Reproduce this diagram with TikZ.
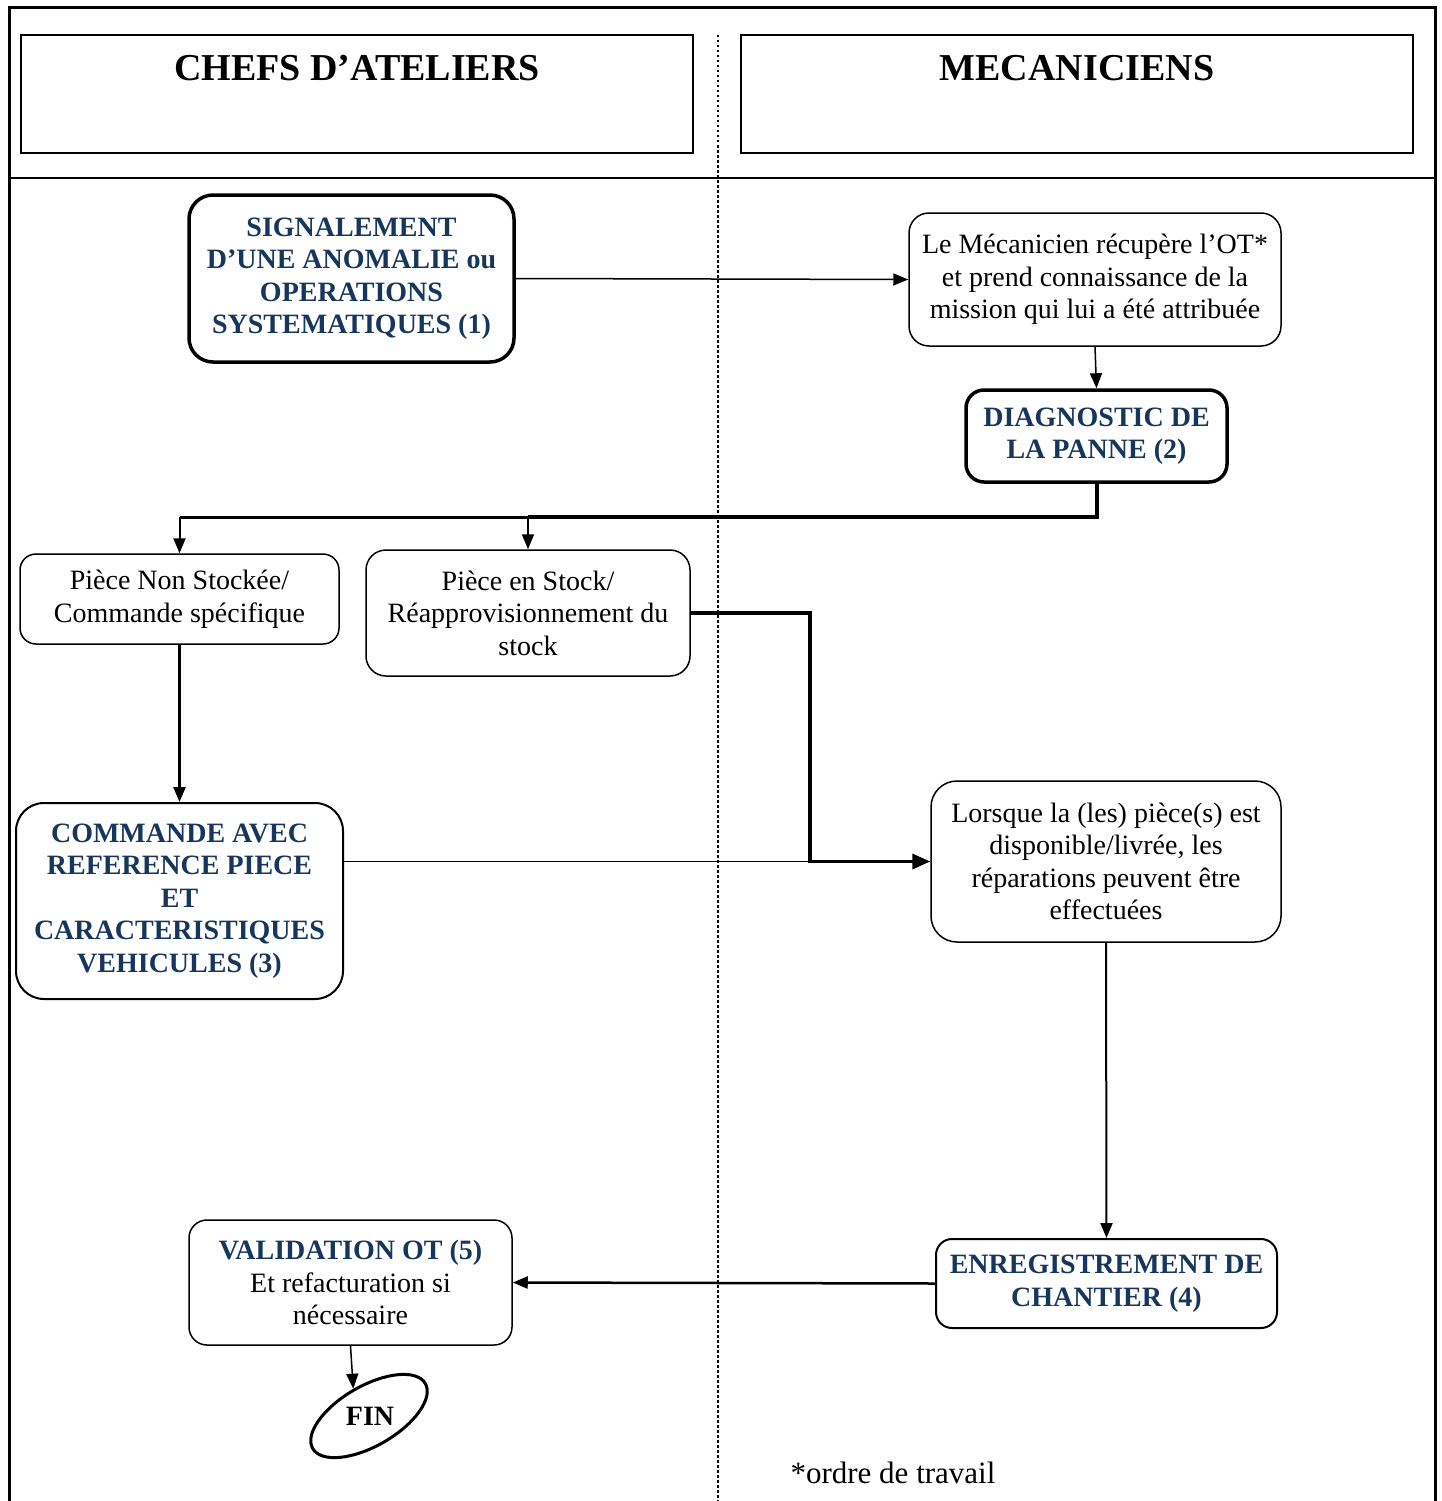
\documentclass[tikz,border=0pt]{standalone}
\usepackage{fontspec}
\setmainfont{Liberation Serif}
\usetikzlibrary{arrows.meta,shapes.geometric}
\definecolor{tblue}{RGB}{23,54,93}
\begin{document}
\begin{tikzpicture}[x=1pt,y=-1pt,
  txt/.style={font=\fontsize{28}{32.5}\selectfont},
  box/.style={draw, rounded corners=20pt, line width=1.5pt, align=center, inner sep=0pt, txt},
  boldbox/.style={box, line width=3.5pt, rounded corners=24pt, text=tblue, font=\fontsize{28}{32.5}\selectfont\bfseries},
  bluebox/.style={box, line width=2pt, text=tblue, font=\fontsize{28}{32.5}\selectfont\bfseries},
  hdr/.style={draw, line width=2pt, inner sep=0pt},
  arr/.style={-{Triangle[length=15pt,width=12pt]}, line width=1.5pt},
  lane/.style={line width=3pt}
]
\useasboundingbox (0,0) rectangle (1442,1501);
% frame
\draw[lane] (9,1501) -- (9,8) -- (1435,8) -- (1435,1501);
\draw[line width=1.5pt] (9,178) -- (1435,178);
\draw[line width=2.5pt, dash pattern=on 2.5pt off 2.5pt] (718,35) -- (718,1501);
% headers
\node[hdr, minimum width=672pt, minimum height=118pt] (h1) at (357,94) {};
\node[hdr, minimum width=672pt, minimum height=118pt] (h2) at (1077,94) {};
\node[font=\fontsize{38}{44}\selectfont\bfseries] (t1) at (357,68) {CHEFS D’ATELIERS};
\node[font=\fontsize{38}{44}\selectfont\bfseries] (t2) at (1077,68) {MECANICIENS};
% nodes
\node[boldbox, minimum width=325pt, minimum height=167pt] (n1) at (351.5,278.5)
  {SIGNALEMENT\\D’UNE ANOMALIE ou\\OPERATIONS\\SYSTEMATIQUES (1)};
\node[box, minimum width=372pt, minimum height=133pt] (n2) at (1095,279.5)
  {Le Mécanicien récupère l’OT*\\et prend connaissance de la\\mission qui lui a été attribuée};
\node[boldbox, rounded corners=18pt, minimum width=261pt, minimum height=92pt] (n3) at (1096.5,436)
  {DIAGNOSTIC DE\\LA PANNE (2)};
\node[box, rounded corners=16pt, minimum width=319pt, minimum height=90pt] (n4) at (179.5,599)
  {Pièce Non Stockée/\\Commande spécifique};
\node[box, minimum width=324pt, minimum height=126pt] (n5) at (528,613)
  {Pièce en Stock/\\Réapprovisionnement du\\stock};
\node[bluebox, rounded corners=28pt, minimum width=327pt, minimum height=196pt] (n6) at (179.5,901)
  {COMMANDE AVEC\\REFERENCE PIECE\\ET\\CARACTERISTIQUES\\VEHICULES (3)};
\node[box, rounded corners=26pt, minimum width=350pt, minimum height=161pt] (n7) at (1106,861.5)
  {Lorsque la (les) pièce(s) est\\disponible/livrée, les\\réparations peuvent être\\effectuées};
\node[bluebox, rounded corners=16pt, minimum width=341pt, minimum height=89pt] (n8) at (1106.5,1283.5)
  {ENREGISTREMENT DE\\CHANTIER (4)};
\node[box, rounded corners=18pt, minimum width=323pt, minimum height=125pt] (n9) at (350.5,1282.5)
  {\textcolor{tblue}{\bfseries VALIDATION OT (5)}\\Et refacturation si\\nécessaire};
\node[draw, ellipse, line width=3pt, minimum width=130pt, minimum height=60pt, rotate=30] (fin) at (369,1416) {};
\node[font=\fontsize{28}{32.5}\selectfont\bfseries] (fint) at (370,1416) {FIN};
\node[font=\fontsize{31}{36}\selectfont] (note) at (893,1473) {*ordre de travail};
% connectors
\coordinate (b1) at (528,517);
\coordinate (b2) at (179.5,517);
\coordinate (c1) at (810,613);
\draw[arr] (n1.east) -- (n2.west);
\draw[arr] (n2.south) -- (n3.north);
\draw[line width=4pt] (n3.south) |- (b1);
\draw[line width=3pt] (b1) -- (b2);
\draw[arr, line width=2pt] (b1) -- (n5.north);
\draw[arr, line width=2pt] (b2) -- (n4.north);
\draw[arr, line width=2.5pt] (n4.south) -- (n6.north);
\draw[line width=1.5pt] (n6.east |- n7.west) -- (n7.west);
\draw[-{Triangle[length=18pt,width=15pt]}, line width=3.5pt] (n5.east) -- (c1) |- (n7.west);
\draw[arr, line width=2pt] (n7.south) -- (n8.north);
\draw[arr, line width=2.5pt] (n8.west) -- (n9.east);
\draw[arr] (n9.south) -- (fin.north);
\end{tikzpicture}
\end{document}
